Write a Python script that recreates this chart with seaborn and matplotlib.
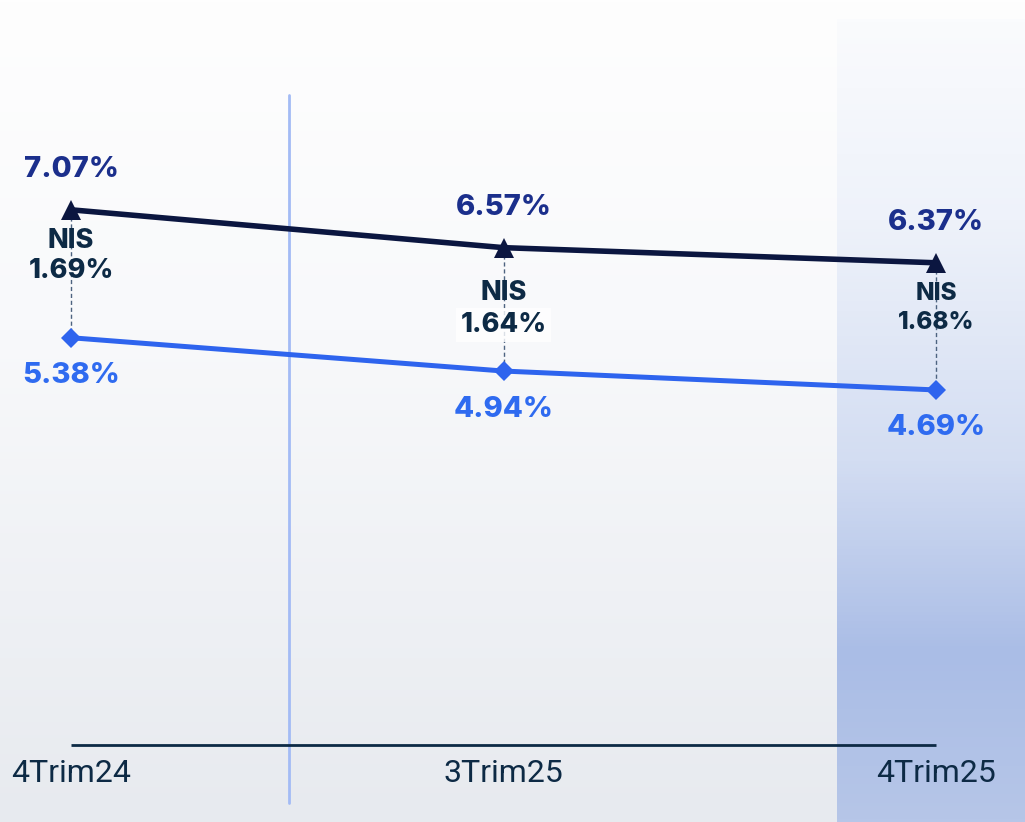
import numpy as np
import pandas as pd
import matplotlib
matplotlib.use('Agg')
import matplotlib.pyplot as plt
from matplotlib.colors import LinearSegmentedColormap
import seaborn as sns

periods = ['4Trim24', '3Trim25', '4Trim25']
yield_rate = [7.07, 6.57, 6.37]
cost_rate = [5.38, 4.94, 4.69]
nis = [1.69, 1.64, 1.68]

sns.set_theme(style='white')
plt.rcParams['font.family'] = ['Inter', 'DejaVu Sans']

NAVY = '#0b1640'
BLUE = '#2e64ee'
TXT = '#0d2a45'

df = pd.DataFrame({
    'pos': list(range(len(periods))) * 2,
    'value': yield_rate + cost_rate,
    'serie': ['yield'] * len(periods) + ['cost'] * len(periods),
})

fig = plt.figure(figsize=(10.25, 8.22), dpi=100)
ax = fig.add_axes([0, 0, 1, 1])
xlim = (-71 / 432.5, 2 + 89 / 432.5)
ylim = (-77 / 75.7, 745 / 75.7)

# background gradient
bg = LinearSegmentedColormap.from_list('bg', [(0, '#fefefe'), (0.4, '#f8f9fb'), (1, '#e7eaef')])
ax.imshow(np.linspace(0, 1, 256).reshape(-1, 1), cmap=bg, aspect='auto',
          extent=[xlim[0], xlim[1], ylim[0], ylim[1]], zorder=0)

# highlighted last period column
col = LinearSegmentedColormap.from_list(
    'col', [(0, '#fafbfd'), (0.25, '#eef2fa'), (0.55, '#d3ddf2'),
            (0.79, '#aabde6'), (1, '#b6c6e8')])
ax.imshow(np.linspace(0, 1, 256).reshape(-1, 1), cmap=col, aspect='auto',
          extent=[1.771, xlim[1], ylim[0], 725 / 75.7], zorder=0.5)

ax.axvline(0.504, ymin=19 / 822, ymax=1 - 95 / 822, color='#a3bbf5', lw=2, zorder=1)
ax.hlines(0, 0, len(periods) - 1, color=TXT, lw=2, zorder=2)

for i in range(len(periods)):
    ax.plot([i, i], [yield_rate[i], cost_rate[i]], color='#4d6380', lw=1,
            dashes=(3, 2), zorder=2)

sns.lineplot(data=df[df.serie == 'yield'], x='pos', y='value', color=NAVY,
             lw=4, marker='^', markersize=14, markeredgewidth=0, ax=ax, zorder=4)
sns.lineplot(data=df[df.serie == 'cost'], x='pos', y='value', color=BLUE,
             lw=3.6, marker='D', markersize=10, markeredgewidth=0, ax=ax, zorder=4)

nis_off = [(31, 61), (45, 77), (31, 60)]
nis_size = [19.5, 19.5, 17.5]
for i in range(len(periods)):
    ax.annotate(f'{yield_rate[i]:.2f}%', (i, yield_rate[i]), xytext=(0, 40),
                textcoords='offset pixels', ha='center', va='center',
                fontsize=21, fontweight='heavy', color='#1b2f8c', zorder=5)
    ax.annotate(f'{cost_rate[i]:.2f}%', (i, cost_rate[i]), xytext=(0, -38),
                textcoords='offset pixels', ha='center', va='center',
                fontsize=21, fontweight='heavy', color='#2f6bf0', zorder=5)
    box = dict(boxstyle='square,pad=0.15', fc='white', ec='none', alpha=0.8) if i == 1 else None
    ax.annotate('NIS', (i, yield_rate[i]), xytext=(0, -nis_off[i][0]),
                textcoords='offset pixels', ha='center', va='center',
                fontsize=nis_size[i], fontweight='heavy', color=TXT, zorder=5)
    ax.annotate(f'{nis[i]:.2f}%', (i, yield_rate[i]), xytext=(0, -nis_off[i][1]),
                textcoords='offset pixels', ha='center', va='center',
                fontsize=nis_size[i], fontweight='heavy', color=TXT, zorder=5,
                bbox=box)
    ax.text(i, -28 / 75.7, periods[i], ha='center', va='center', fontsize=23,
            family=['Roboto', 'DejaVu Sans'], color=TXT, zorder=5)

ax.set_xlim(*xlim)
ax.set_ylim(*ylim)
ax.axis('off')

plt.savefig('out.png', dpi=100)
plt.close()
